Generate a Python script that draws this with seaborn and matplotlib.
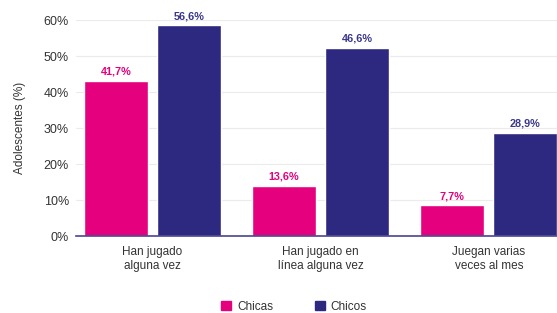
import seaborn as sns
import matplotlib.pyplot as plt
import pandas as pd
from matplotlib.patches import Patch

# Categories and series (bar heights as drawn, labels as printed)
categorias = ["Han jugado\nalguna vez", "Han jugado en\nlínea alguna vez", "Juegan varias\nveces al mes"]
chicas = [43.1, 13.9, 8.5]
chicos = [58.5, 52.2, 28.6]
chicas_etiquetas = ["41,7%", "13,6%", "7,7%"]
chicos_etiquetas = ["56,6%", "46,6%", "28,9%"]
series = ["Chicas", "Chicos"]
yticks = [0, 10, 20, 30, 40, 50, 60]

rosa = "#E5007D"
azul = "#2E2980"

df = pd.DataFrame({
    "categoria": categorias * 2,
    "sexo": [series[0]] * 3 + [series[1]] * 3,
    "valor": chicas + chicos,
})

sns.set_theme(style="whitegrid")
plt.rcParams["font.family"] = ["Liberation Sans", "DejaVu Sans"]

fig = plt.figure(figsize=(5.57, 3.13), dpi=100)
ax = fig.add_axes([0.1364, 0.246, 0.8636, 0.69])

sns.barplot(data=df, x="categoria", y="valor", hue="sexo", palette=[rosa, azul],
            width=0.87, gap=0.125, saturation=1, legend=False, ax=ax)

ax.set_xlim(-0.455, 2.405)
ax.set_ylim(0, 60)
ax.set_yticks(yticks)
ax.set_yticklabels([f"{v}%" for v in yticks])
ax.grid(axis="y", color="#ebebeb", linewidth=0.8)
ax.grid(axis="x", visible=False)
for s in ["top", "right", "left"]:
    ax.spines[s].set_visible(False)
ax.spines["bottom"].set_color("#4a4590")
ax.spines["bottom"].set_linewidth(1.2)
ax.tick_params(axis="y", length=0, pad=5, labelsize=9, labelcolor="#333333")
ax.tick_params(axis="x", length=0, pad=7, labelsize=8.5, labelcolor="#333333")
for t in ax.get_xticklabels():
    t.set_linespacing(1.3)
ax.set_xlabel("")
ax.set_ylabel("Adolescentes (%)", fontsize=8.5, color="#333333", labelpad=13)

# value labels
for cont, etiquetas, col in zip(ax.containers, [chicas_etiquetas, chicos_etiquetas], [rosa, "#3b378a"]):
    ax.bar_label(cont, labels=etiquetas, padding=3, color=col, fontsize=7.8,
                 fontweight="bold", family=["Liberation Sans Narrow", "Liberation Sans"])

handles = [Patch(color=rosa), Patch(color=azul)]
fig.legend(handles, series, loc="center", bbox_to_anchor=(0.528, 0.02), ncol=2,
           frameon=False, fontsize=8.5, handlelength=0.85, handleheight=0.85,
           handletextpad=0.5, columnspacing=3.5, labelcolor="#333333")

fig.savefig("out.png", dpi=100)
